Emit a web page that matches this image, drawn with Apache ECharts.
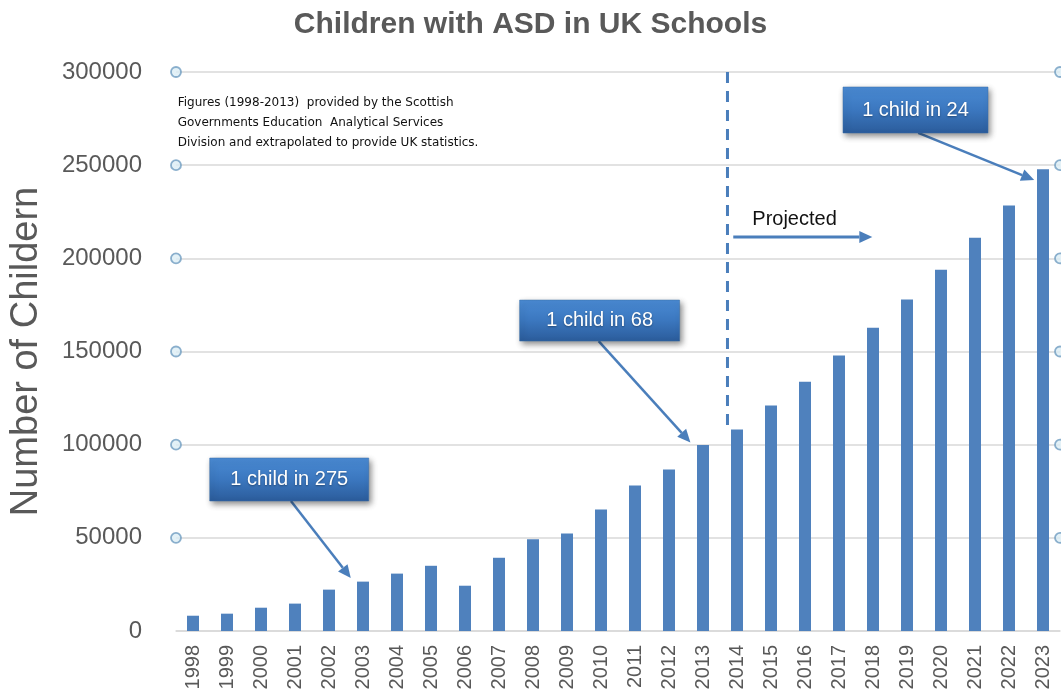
<!DOCTYPE html>
<html>
<head>
<meta charset="utf-8">
<script src="https://cdn.jsdelivr.net/npm/echarts@6/dist/echarts.min.js"></script>
<style>
html,body{margin:0;padding:0;background:#fff;}
#chart{width:1061px;height:694px;}
</style>
</head>
<body>
<div id="chart"></div>
<script>
// ---- data ----
const categories = ['1998','1999','2000','2001','2002','2003','2004','2005','2006','2007','2008','2009','2010','2011','2012','2013','2014','2015','2016','2017','2018','2019','2020','2021','2022','2023'];
const childrenCounts = [8200, 9300, 12500, 14700, 22200, 26500, 30800, 35000, 24300, 39300, 49200, 52300, 65200, 78100, 86700, 99800, 108200, 121000, 133800, 147800, 162800, 177900, 193900, 211000, 228400, 247800];
const yTickValues = [50000, 100000, 150000, 200000, 250000, 300000];
const titleText = 'Children with ASD in UK Schools';
const yAxisTitle = 'Number of Childern';
const noteLines = ['Figures (1998-2013)  provided by the Scottish', 'Governments Education  Analytical Services', 'Division and extrapolated to provide UK statistics.'];
const calloutTexts = ['1 child in 275', '1 child in 68', '1 child in 24'];
const projectedText = 'Projected';

const chart = echarts.init(document.getElementById('chart'));
const lastIdx = categories.length - 1;

// handle circles at both ends of each gridline
const handleData = [];
yTickValues.forEach(v => { handleData.push([-0.5, v]); handleData.push([lastIdx + 0.5, v]); });

chart.setOption({
  animation: false,
  backgroundColor: '#ffffff',
  title: {
    text: titleText, left: 'center', top: 5,
    textStyle: {fontFamily: 'Liberation Sans', fontWeight: 'bold', fontSize: 30, color: '#595959'}
  },
  grid: {left: 175, right: 1, top: 72, bottom: 63, containLabel: false},
  xAxis: [{
    type: 'category', data: categories, boundaryGap: true,
    axisLine: {lineStyle: {color: '#d9d9d9', width: 1.5}},
    axisTick: {show: false},
    axisLabel: {rotate: 90, interval: 0, margin: 14, fontFamily: 'Liberation Sans', fontSize: 20, color: '#595959'}
  }, {
    type: 'value', min: -0.5, max: lastIdx + 0.5, show: false
  }],
  yAxis: {
    type: 'value', min: 0, max: 300000, interval: 50000,
    name: yAxisTitle, nameLocation: 'middle', nameGap: 130,
    nameTextStyle: {fontFamily: 'Liberation Sans', fontSize: 38, color: '#595959'},
    axisLine: {show: false}, axisTick: {show: false},
    axisLabel: {margin: 34, fontFamily: 'Liberation Sans', fontSize: 24, color: '#595959',
      formatter: v => String(v)},
    splitLine: {lineStyle: {color: '#d9d9d9', width: 1.5}}
  },
  series: [{
    type: 'bar', data: childrenCounts, barWidth: 12,
    itemStyle: {color: '#4f81bd'}
  }, {
    type: 'scatter', xAxisIndex: 1, yAxisIndex: 0, data: handleData, clip: false,
    symbol: 'circle', symbolSize: 10, z: 5,
    itemStyle: {color: '#dcedf5', borderColor: '#6f9cc0', borderWidth: 1.8}
  }]
});

function P(i, v) { return chart.convertToPixel({seriesIndex: 1}, [i, v]); }

function arrow(from, to, color, width) {
  const a = P(from[0], from[1]), b = P(to[0], to[1]);
  const dx = b[0] - a[0], dy = b[1] - a[1], len = Math.sqrt(dx*dx + dy*dy);
  const ux = dx / len, uy = dy / len, hl = 13, hw = 6;
  const base = [b[0] - ux*hl, b[1] - uy*hl];
  return [
    {type: 'line', shape: {x1: a[0], y1: a[1], x2: base[0], y2: base[1]}, style: {stroke: color, lineWidth: width}, z: 20},
    {type: 'polygon', shape: {points: [b, [base[0] - uy*hw, base[1] + ux*hw], [base[0] + uy*hw, base[1] - ux*hw]]}, style: {fill: color}, z: 20}
  ];
}

function callout(center, w, h, text) {
  const c = P(center[0], center[1]);
  return [{
    type: 'rect', shape: {x: c[0] - w/2, y: c[1] - h/2, width: w, height: h}, z: 30,
    style: {
      fill: new echarts.graphic.LinearGradient(0, 0, 0, 1, [{offset: 0, color: '#4a8bd4'}, {offset: 0.5, color: '#3b77bf'}, {offset: 1, color: '#2b5c9b'}]),
      stroke: '#3a6ea8', lineWidth: 0.5,
      shadowBlur: 6, shadowColor: 'rgba(0,0,0,0.45)', shadowOffsetX: 2, shadowOffsetY: 3
    }
  }, {
    type: 'text', x: c[0], y: c[1], z: 31,
    style: {text: text, align: 'center', verticalAlign: 'middle', fill: '#ffffff',
      font: '20px "Liberation Sans"', textShadowColor: 'rgba(0,0,0,0.35)', textShadowBlur: 2, textShadowOffsetY: 1}
  }];
}

const arrowColor = '#4a7ebb';
let elems = [];
// note text
const noteP = P(-0.45, 288600);
elems.push({type: 'text', x: noteP[0], y: noteP[1], z: 10,
  style: {text: noteLines.join('\n'), font: '12px "DejaVu Sans"', lineHeight: 19.7, fill: '#111111', verticalAlign: 'top'}});
// dashed divider
const d1 = P(15.72, 300000), d2 = P(15.72, 110500);
elems.push({type: 'line', shape: {x1: d1[0], y1: d1[1], x2: d2[0], y2: d2[1]}, z: 15,
  style: {stroke: arrowColor, lineWidth: 3, lineDash: [11, 8]}});
// projected label + arrow
const pp = P(16.45, 221100);
elems.push({type: 'text', x: pp[0], y: pp[1], z: 10,
  style: {text: projectedText, font: '20px "Liberation Sans"', fill: '#111111', verticalAlign: 'middle'}});
elems = elems.concat(arrow([15.89, 211400], [19.98, 211400], arrowColor, 3));
// callouts
elems = elems.concat(arrow([2.88, 69800], [4.64, 28400], arrowColor, 2.5));
elems = elems.concat(callout([2.83, 81300], 159, 43, calloutTexts[0]));
elems = elems.concat(arrow([11.93, 155600], [14.63, 101200], arrowColor, 2.5));
elems = elems.concat(callout([11.96, 166600], 160, 41, calloutTexts[1]));
elems = elems.concat(arrow([21.33, 267300], [24.74, 242000], arrowColor, 2.5));
elems = elems.concat(callout([21.25, 279600], 145, 46, calloutTexts[2]));

chart.setOption({graphic: {elements: elems}});
</script>
</body>
</html>
